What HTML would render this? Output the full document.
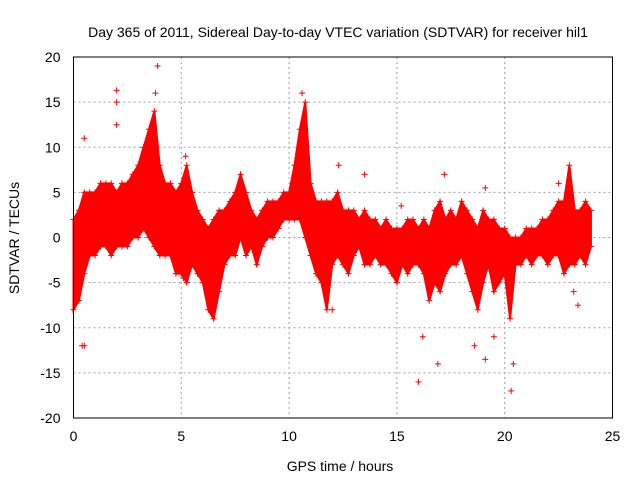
<!DOCTYPE html>
<html><head><meta charset="utf-8"><style>
body{margin:0;background:#fff;}
svg{display:block;font-family:"Liberation Sans",sans-serif;}
</style></head><body>
<svg id="chart" width="640" height="480" viewBox="0 0 640 480"></svg>
<script>
const bandTimes=[0,0.25,0.5,0.75,1,1.25,1.5,1.75,2,2.25,2.5,2.75,3,3.25,3.5,3.75,4,4.25,4.5,4.75,5,5.25,5.5,5.75,6,6.25,6.5,6.75,7,7.25,7.5,7.75,8,8.25,8.5,8.75,9,9.25,9.5,9.75,10,10.25,10.5,10.75,11,11.25,11.5,11.75,12,12.25,12.5,12.75,13,13.25,13.5,13.75,14,14.25,14.5,14.75,15,15.25,15.5,15.75,16,16.25,16.5,16.75,17,17.25,17.5,17.75,18,18.25,18.5,18.75,19,19.25,19.5,19.75,20,20.25,20.5,20.75,21,21.25,21.5,21.75,22,22.25,22.5,22.75,23,23.25,23.5,23.75,24];
const bandLow=[-8,-7,-4,-2,-2,-1,-1,-2,-1,-1,-1,0,0,1,0,-1,-2,-2,-2,-4,-4,-5,-3,-4,-5,-8,-9,-6,-3,-2,-2,0,-2,-1,-3,-1,0,0,1,2,2,2,2,0,-2,-4,-5,-8,-3,-2,-3,-4,-2,-1,-3,-3,-2,-3,-3,-4,-5,-3,-4,-3,-3,-4,-7,-5,-6,-4,-3,-3,-2,-4,-6,-8,-5,-3,-6,-5,-4,-9,-3,-3,-2,-3,-2,-2,-3,-2,-2,-4,-3,-3,-2,-3,-1];
const bandHigh=[2,3,5,5,5,6,6,6,5,6,6,7,8,10,12,14,8,6,6,5,6,8,5,3,2,1,2,3,3,4,5,7,5,3,2,3,4,4,4,5,5,8,12,15,6,4,4,4,4,5,3,3,3,2,3,2,2,1,2,1,1,1,2,2,1,2,1,3,4,2,3,2,4,3,2,1,3,2,2,1,1,0,0,0,1,1,1,2,2,3,4,4,8,3,3,4,3];
const outT=[0.5,0.5,2,2,2,3.9,3.8,5.2,12.3,13.5,15.2,16.2,16.0,16.9,17.2,18.6,19.1,19.5,20.3,20.4,22.5,23.2,23.4,19.1,12.0,5.1,0.4,10.6];
const outV=[-12,11,16.3,15,12.5,19,16,9,8,7,3.5,-11,-16,-14,7,-12,-13.5,-11,-17,-14,6,-6,-7.5,5.5,-8,-4.5,-12,16];
const xTicks=[0,5,10,15,20,25];
const yTicks=[-20,-15,-10,-5,0,5,10,15,20];
const L=73.5,R=612.5,T=57,B=418;
const X=t=>L+(t-0)/25*(R-L), Y=v=>B-(v+20)/40*(B-T);
const svg=document.getElementById('chart'),NS='http://www.w3.org/2000/svg';
function mk(tag,at,parent){const e=document.createElementNS(NS,tag);for(const k in at)e.setAttribute(k,at[k]);(parent||svg).appendChild(e);return e;}
xTicks.forEach(t=>{if(t>0&&t<25){const g=mk('line',{x1:X(t),x2:X(t),y1:T,y2:B,stroke:'#a0a0a0','stroke-dasharray':'2,3'});

}
const tx=mk('text',{x:X(t),y:B+23,'text-anchor':'middle','font-size':14,fill:'#000'});tx.textContent=t;

});
yTicks.forEach(v=>{if(v>-20&&v<20){const g=mk('line',{x1:L,x2:R,y1:Y(v),y2:Y(v),stroke:'#a0a0a0','stroke-dasharray':'2,3'});

}
const tx=mk('text',{x:L-13,y:Y(v)+5,'text-anchor':'end','font-size':14,fill:'#000'});tx.textContent=v;

});
let pts=bandTimes.map((t,i)=>X(t)+','+Y(bandHigh[i]));
for(let i=bandTimes.length-1;i>=0;i--)pts.push(X(bandTimes[i])+','+Y(bandLow[i]));
const band=mk('polygon',{points:pts.join(' '),fill:'#ff0000',stroke:'#ff0000','stroke-width':2});


const g=mk('g',{stroke:'#ff0000','stroke-width':1});


function plus(x,y){mk('path',{d:`M${x-3} ${y}h6M${x} ${y-3}v6`},g);}
bandTimes.forEach((t,i)=>{plus(X(t),Y(bandHigh[i]));plus(X(t),Y(bandLow[i]));});
outT.forEach((t,i)=>plus(X(t),Y(outV[i])));
const fr=mk('rect',{x:L,y:T,width:R-L,height:B-T,fill:'none',stroke:'#000','stroke-width':1});


const ti=mk('text',{x:338,y:37,'text-anchor':'middle','font-size':14});ti.textContent='Day 365 of 2011, Sidereal Day-to-day VTEC variation (SDTVAR) for receiver hil1';


const xl=mk('text',{x:340,y:471,'text-anchor':'middle','font-size':14});xl.textContent='GPS time / hours';


const yl=mk('text',{x:19,y:238,'text-anchor':'middle','font-size':14,transform:'rotate(-90 19 238)'});yl.textContent='SDTVAR / TECUs';


</script>
</body></html>
